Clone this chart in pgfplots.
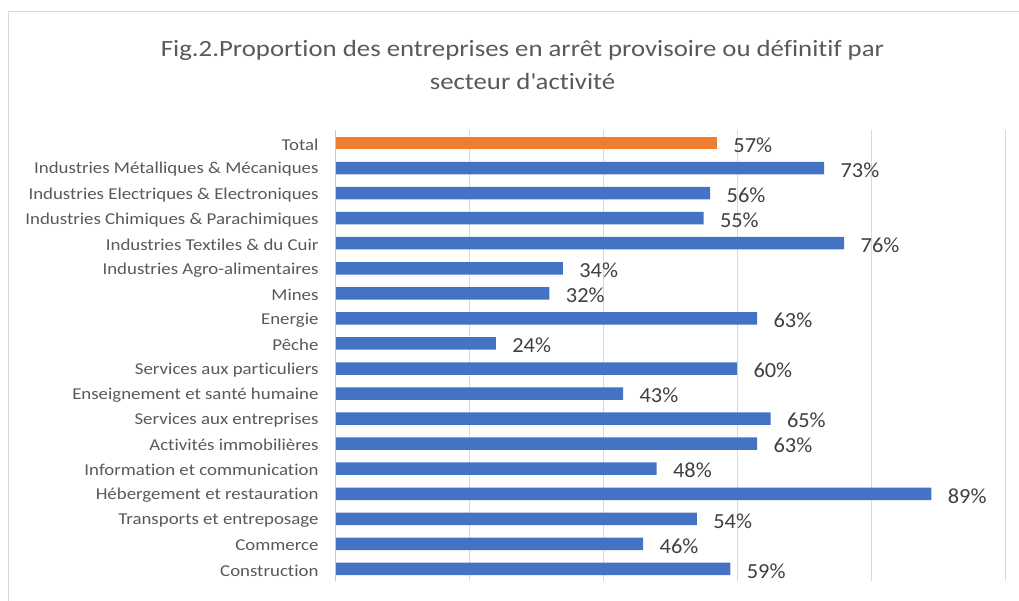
\documentclass[border=0pt]{standalone}
\usepackage{pgfplots}
\pgfplotsset{compat=1.18}
\usepackage{fontspec}
\setmainfont{Carlito}[Ligatures=NoCommon]
\newfontfamily\titlefont{Carlito}[FakeStretch=1.15, Ligatures=NoCommon]
\newfontfamily\labelfont{Carlito}[FakeStretch=1.135, Ligatures=NoCommon]
\newfontfamily\valuefont{Carlito}[FakeStretch=1.04, Ligatures=NoCommon]
\definecolor{barblue}{HTML}{4472C4}
\definecolor{barorange}{HTML}{ED7D31}
\definecolor{txtgrey}{HTML}{595959}
\definecolor{valgrey}{HTML}{404040}
\definecolor{gridgrey}{HTML}{D9D9D9}
\begin{document}
\begin{tikzpicture}[x=1pt,y=1pt]
\useasboundingbox (0,0) rectangle (1019,601);
\draw[gridgrey, line width=1pt] (8,0) -- (8,589) -- (1019,589);
\node[text=txtgrey, font=\titlefont\fontsize{23.3}{33}\selectfont, align=center] at (522.5,535.5)
  {Fig.2.Proportion des entreprises en arrêt provisoire ou définitif par\\secteur d\textquotesingle activité};
\begin{axis}[
  at={(335pt,19.5pt)}, anchor=south west,
  scale only axis, width=670pt, height=451pt,
  xmin=0, xmax=100, ymin=-0.5, ymax=17.5,
  xbar, bar width=12.5pt, bar shift=0pt,
  xtick={0,20,40,60,80,100}, xticklabels={},
  xmajorgrids, grid style={gridgrey, line width=1pt},
  major tick length=0pt,
  ytick={0,...,17},
  yticklabels={Construction,Commerce,Transports et entreposage,Hébergement et restauration,Information et communication,Activités immobilières,Services aux entreprises,Enseignement et santé humaine,Services aux particuliers,Pêche,Energie,Mines,Industries Agro-alimentaires,Industries Textiles \& du Cuir,Industries Chimiques \& Parachimiques,Industries Electriques \& Electroniques,Industries Métalliques \& Mécaniques,Total},
  yticklabel style={text=txtgrey, font=\labelfont\fontsize{16.6}{18}\selectfont, xshift=-13pt, yshift=-1.5pt},
  axis line style={draw=none},
  axis x line*=bottom, axis y line*=left,
  nodes near coords={\pgfmathprintnumber{\pgfplotspointmeta}\%},
  nodes near coords style={text=valgrey, font=\valuefont\fontsize{21.5}{22}\selectfont, anchor=west, xshift=13pt, yshift=-2pt},
  /pgf/number format/assume math mode=true,
  clip=false,
]
\addplot[fill=barblue, draw=none] coordinates {
(59,0) (46,1) (54,2) (89,3) (48,4) (63,5) (65,6) (43,7) (60,8) (24,9) (63,10) (32,11) (34,12) (76,13) (55,14) (56,15) (73,16)};
\addplot[fill=barorange, draw=none] coordinates {(57,17)};
\draw[gridgrey!80!gray, line width=1pt] (axis cs:0,-0.5) -- (axis cs:0,17.5);
\end{axis}
\end{tikzpicture}
\end{document}
